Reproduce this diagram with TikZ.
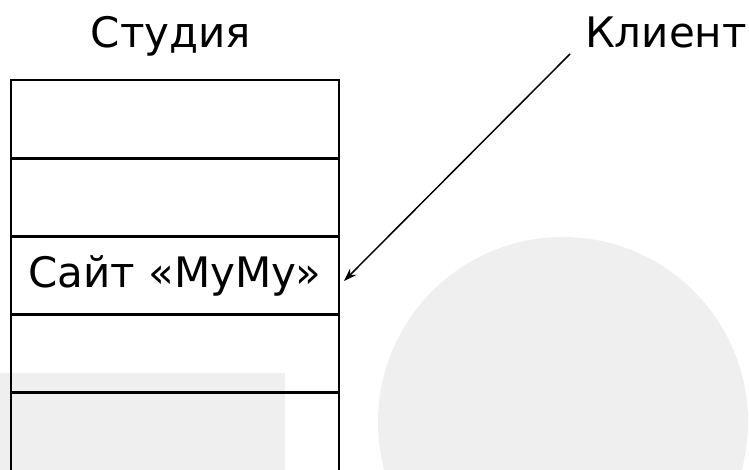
\documentclass[tikz,border=0pt]{standalone}
\usepackage{fontspec}
\setmainfont{DejaVu Sans}
\usetikzlibrary{arrows.meta}
\definecolor{bggray}{HTML}{EFEFEF}
\begin{document}
\begin{tikzpicture}[x=1pt,y=-1pt,
  cellnode/.style={draw=black, line width=2.2pt, minimum width=328pt, minimum height=78pt, inner sep=0pt, font=\fontsize{42}{50}\selectfont},
  titlenode/.style={anchor=base, inner sep=0pt, font=\fontsize{42}{50}\selectfont}]
\useasboundingbox (0,0) rectangle (749,470);
\fill[bggray] (0,373) rectangle (285,470);
\fill[bggray] (563,422) circle (185pt);
\node[titlenode] (Studio) at (171,48) {Студия};
\node[titlenode] (Client) at (666,48) {Клиент};
\node[cellnode] (Row1) at (175,119) {};
\node[cellnode] (Row2) at (175,197.5) {};
\node[cellnode] (Site) at (175,275.5) {Сайт «MyMy»};
\node[cellnode] (Row4) at (175,353.5) {};
\node[cellnode] (Row5) at (175,432) {};
\coordinate (From) at (570,54);
\coordinate (To) at (344,281);
\draw[line width=1.5pt, -{Stealth[length=13pt,width=9pt]}] (From) -- (To);
\end{tikzpicture}
\end{document}
